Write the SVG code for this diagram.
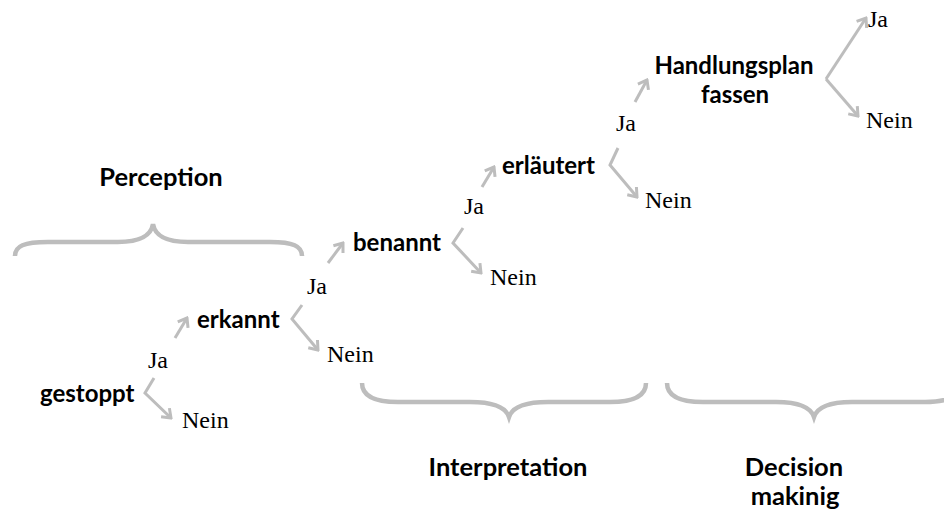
<svg xmlns="http://www.w3.org/2000/svg" width="944" height="513" viewBox="0 0 944 513">
  <style>
    .step { font-family: Lato, "Liberation Sans", sans-serif; font-weight: bold; font-size: 24px; fill: #000; }
    .phase { font-family: Lato, "Liberation Sans", sans-serif; font-weight: bold; font-size: 25.5px; fill: #000; text-anchor: middle; }
    .ans { font-family: "Liberation Serif", "DejaVu Serif", serif; font-size: 24px; fill: #000; }
    .edge { fill: none; stroke: #bdbdbd; stroke-width: 3; stroke-linejoin: miter; }
    .brace { fill: none; stroke: #bdbdbd; stroke-width: 4.5; stroke-linecap: butt; }
  </style>
  <defs>
    <marker id="tip" viewBox="-10 -8 12 16" markerWidth="12" markerHeight="16" refX="0" refY="0" orient="auto" markerUnits="userSpaceOnUse">
      <path d="M-8,-6 L0,0 L-8,6" fill="none" stroke="#bdbdbd" stroke-width="3" stroke-linecap="butt"/>
    </marker>
  </defs>

  <!-- phase braces -->
  <g id="phases">
    <g id="perception">
      <path class="brace" d="M15,256 C15,246 24,242 48,242 L118,242 C140,242 151,236 153,224 C155,236 166,242 188,242 L270,242 C293,242 302,246 302,256"/>
      <text class="phase" x="161" y="186">Perception</text>
    </g>
    <g id="interpretation">
      <path class="brace" d="M362,383 C362,394 372,402 398,402 L470,402 C494,402 506,408 509,417 C512,408 524,402 548,402 L610,402 C636,402 646,394 646,383"/>
      <text class="phase" x="508" y="476">Interpretation</text>
    </g>
    <g id="decision">
      <path class="brace" d="M667,383 C667,394 677,402 703,402 L776,402 C800,402 811,408 814,417 C817,408 828,402 852,402 L925,402 C951,402 961,394 961,383"/>
      <text class="phase" x="794" y="476">Decision</text>
      <text class="phase" x="795" y="505">makinig</text>
    </g>
  </g>

  <!-- connectors -->
  <g id="connectors">
    <path class="edge" d="M175,338 L187,318" marker-end="url(#tip)"/>
    <path class="edge" d="M154,378 L145,393 L171,418" marker-end="url(#tip)"/>
    <path class="edge" d="M328,263 L343,243" marker-end="url(#tip)"/>
    <path class="edge" d="M302,305 L292,319 L318,350" marker-end="url(#tip)"/>
    <path class="edge" d="M482,187 L494,167" marker-end="url(#tip)"/>
    <path class="edge" d="M463,228 L453,243 L481,273" marker-end="url(#tip)"/>
    <path class="edge" d="M635,102 L647,80" marker-end="url(#tip)"/>
    <path class="edge" d="M618,148 L610,165 L637,197" marker-end="url(#tip)"/>
    <path class="edge" d="M826,79 L866,18" marker-end="url(#tip)"/>
    <path class="edge" d="M826,79 L858,116" marker-end="url(#tip)"/>
  </g>

  <!-- steps -->
  <g id="gestoppt">
    <text class="step" x="40" y="402">gestoppt</text>
  </g>
  <g id="erkannt">
    <text class="step" x="197" y="328">erkannt</text>
  </g>
  <g id="benannt">
    <text class="step" x="353" y="251">benannt</text>
  </g>
  <g id="erlaeutert">
    <text class="step" x="502" y="174">erläutert</text>
  </g>
  <g id="handlungsplan">
    <text class="step" x="734" y="74" text-anchor="middle">Handlungsplan</text>
    <text class="step" x="735" y="103" text-anchor="middle">fassen</text>
  </g>

  <!-- answers -->
  <g id="ja1"><text class="ans" x="148" y="368">Ja</text></g>
  <g id="nein1"><text class="ans" x="182" y="428">Nein</text></g>
  <g id="ja2"><text class="ans" x="307" y="294">Ja</text></g>
  <g id="nein2"><text class="ans" x="327" y="362">Nein</text></g>
  <g id="ja3"><text class="ans" x="464" y="214">Ja</text></g>
  <g id="nein3"><text class="ans" x="490" y="285">Nein</text></g>
  <g id="ja4"><text class="ans" x="616" y="131">Ja</text></g>
  <g id="nein4"><text class="ans" x="645" y="208">Nein</text></g>
  <g id="ja5"><text class="ans" x="868" y="27">Ja</text></g>
  <g id="nein5"><text class="ans" x="866" y="128">Nein</text></g>
</svg>
